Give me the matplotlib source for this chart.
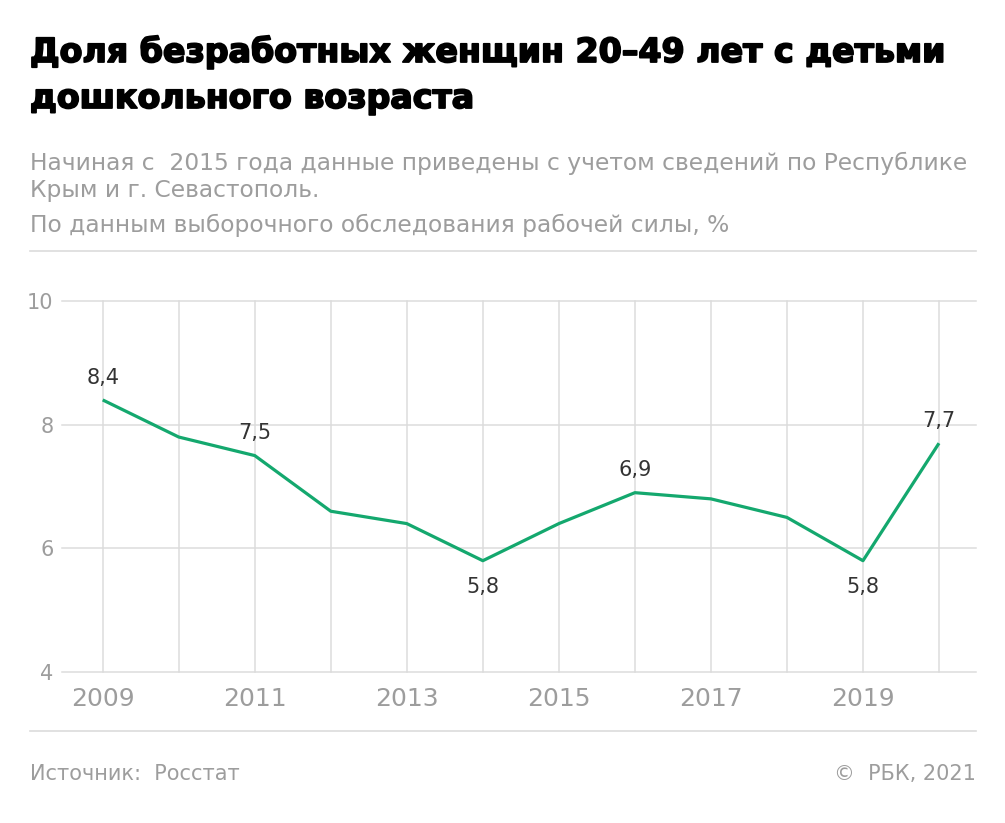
import matplotlib.pyplot as plt
from matplotlib.lines import Line2D
import matplotlib.patheffects as pe

years = [2009, 2010, 2011, 2012, 2013, 2014, 2015, 2016, 2017, 2018, 2019, 2020]
values = [8.4, 7.8, 7.5, 6.6, 6.4, 5.8, 6.4, 6.9, 6.8, 6.5, 5.8, 7.7]
labelled = {2009: 'above', 2011: 'above', 2014: 'below', 2016: 'above', 2019: 'below', 2020: 'above'}
xtick_years = [2009, 2011, 2013, 2015, 2017, 2019]
yticks = [4, 6, 8, 10]

title_lines = ["Доля безработных женщин 20–49 лет с детьми", "дошкольного возраста"]
sub_lines = ["Начиная с  2015 года данные приведены с учетом сведений по Республике",
             "Крым и г. Севастополь.",
             "По данным выборочного обследования рабочей силы, %"]
source = "Источник:  Росстат"
copyright_txt = "©  РБК, 2021"

W, H = 1005, 823
GREEN = '#14a86e'
GRAY = '#9d9d9d'
GRID = '#dcdcdc'

plt.rcParams['font.family'] = ['DejaVu Sans']
fig = plt.figure(figsize=(W / 100, H / 100), dpi=100)


def fy(px):
    return 1 - px / H


def fx(px):
    return px / W


def fit(t, width_px):
    r = fig.canvas.get_renderer()
    w = t.get_window_extent(r).width
    t.set_fontsize(t.get_fontsize() * width_px / w)
    return t.get_fontsize()


# title (a thin stroke to get closer to the heavy original face)
heavy = [pe.withStroke(linewidth=1.3, foreground='black')]
t1 = fig.text(fx(30), fy(62), title_lines[0], fontsize=23, fontweight='bold', color='black',
              va='baseline', path_effects=heavy)
ts = fit(t1, 916)
fig.text(fx(30), fy(108), title_lines[1], fontsize=ts, fontweight='bold', color='black',
         va='baseline', path_effects=heavy)

# subtitle
s1 = fig.text(fx(30), fy(170), sub_lines[0], fontsize=15, color=GRAY, va='baseline')
ss = fit(s1, 938)
fig.text(fx(30), fy(197), sub_lines[1], fontsize=ss, color=GRAY, va='baseline')
fig.text(fx(30), fy(232), sub_lines[2], fontsize=ss, color=GRAY, va='baseline')

# separators
fig.add_artist(Line2D([fx(30), fx(976)], [fy(251), fy(251)], color=GRID, lw=1.2))
fig.add_artist(Line2D([fx(30), fx(976)], [fy(731), fy(731)], color=GRID, lw=1.2))

# footer
fig.text(fx(30), fy(780), source, fontsize=15, color=GRAY, va='baseline')
fig.text(fx(976), fy(780), copyright_txt, fontsize=15, color=GRAY, va='baseline', ha='right')

# chart
ax = fig.add_axes([fx(62), fy(672), fx(976) - fx(62), fy(301) - fy(672)])
ax.set_xlim(2009 - 40.7 / 76.0, 2020 + 37.0 / 76.0)
ax.set_ylim(4, 10)
for s in ax.spines.values():
    s.set_visible(False)
for y in yticks:
    ax.axhline(y, color=GRID, lw=1.1, zorder=0, clip_on=False)
for yr in years:
    ax.axvline(yr, color=GRID, lw=1.1, zorder=0, clip_on=False)

ax.plot(years, values, color=GREEN, lw=2.3, solid_joinstyle='round', solid_capstyle='butt', zorder=3)

for yr, v in zip(years, values):
    if yr in labelled:
        dy = 16 if labelled[yr] == 'above' else -19
        ax.annotate(f"{v:.1f}".replace('.', ','), (yr, v), xytext=(0, dy), textcoords='offset points',
                    ha='center', va='center', fontsize=15, color='#333333')

ax.set_yticks(yticks)
ax.set_yticklabels([str(y) for y in yticks])
ax.set_xticks(xtick_years)
ax.set_xticklabels([str(y) for y in xtick_years])
ax.tick_params(axis='y', length=0, pad=6, labelsize=15, labelcolor=GRAY)
ax.tick_params(axis='x', length=0, pad=10.5, labelsize=18, labelcolor=GRAY)

fig.savefig('out.png', dpi=100)
